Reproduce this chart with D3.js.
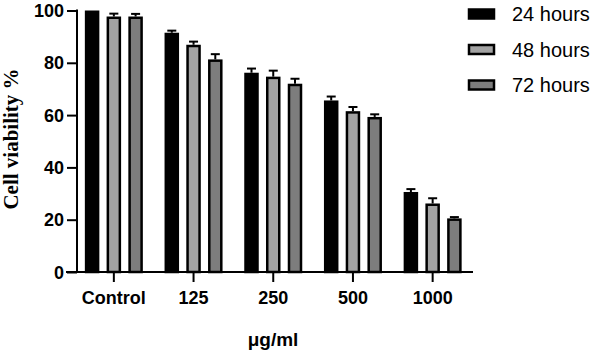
<!DOCTYPE html>
<html><head><meta charset="utf-8">
<script src="https://cdn.jsdelivr.net/npm/d3@7"></script>
<style>body{margin:0;background:#fff}svg{display:block}</style>
</head><body>
<script>
const categories = ["Control", "125", "250", "500", "1000"];
const seriesNames = ["24 hours", "48 hours", "72 hours"];
const values24 = [100, 91.5, 76.2, 65.6, 30.6];
const values48 = [97.7, 86.9, 74.7, 61.5, 26.2];
const values72 = [97.7, 81.3, 72.0, 59.3, 20.5];
const err24 = [0, 0.8, 1.6, 1.5, 1.1];
const err48 = [1.1, 1.2, 2.3, 1.6, 2.0];
const err72 = [1.0, 2.0, 1.9, 1.0, 0.5];
const yTicks = [0, 20, 40, 60, 80, 100];
const colors = ["#000000", "#a3a3a3", "#7d7d7d"];

const W = 596, H = 355;
const svg = d3.select("body").append("svg").attr("width", W).attr("height", H);

const y = d3.scaleLinear().domain([0, 100]).range([272, 10.5]);
const x = d3.scaleBand().domain(categories).range([74, 472.5]).paddingInner(0).paddingOuter(0);
const xs = d3.scaleBand().domain(seriesNames).range([-29, 29]).paddingInner(0.333).paddingOuter(0);

const series = [
  {name: seriesNames[0], vals: values24, errs: err24, color: colors[0]},
  {name: seriesNames[1], vals: values48, errs: err48, color: colors[1]},
  {name: seriesNames[2], vals: values72, errs: err72, color: colors[2]}
];

const g = svg.append("g");
series.forEach(s => {
  categories.forEach((c, i) => {
    const cx = x(c) + x.bandwidth() / 2 + xs(s.name);
    const bw = xs.bandwidth();
    if (s.errs[i] > 0) {
      const mid = cx + bw / 2;
      g.append("line").attr("x1", mid).attr("x2", mid)
        .attr("y1", y(s.vals[i])).attr("y2", y(s.vals[i] + s.errs[i]))
        .attr("stroke", "#000").attr("stroke-width", 2);
      g.append("line").attr("x1", mid - 4.5).attr("x2", mid + 4.5)
        .attr("y1", y(s.vals[i] + s.errs[i])).attr("y2", y(s.vals[i] + s.errs[i]))
        .attr("stroke", "#000").attr("stroke-width", 2);
    }
    g.append("rect")
      .attr("x", cx + 1.25).attr("y", y(s.vals[i]) + 1.25)
      .attr("width", bw - 2.5).attr("height", y(0) - y(s.vals[i]) - 1.25)
      .attr("fill", s.color).attr("stroke", "#000").attr("stroke-width", 2.5);
  });
});

// Y axis
const yAxis = svg.append("g").attr("transform", "translate(77,0)")
  .call(d3.axisLeft(y).tickValues(yTicks).tickSize(10).tickPadding(3).tickSizeOuter(0));
yAxis.select(".domain").attr("stroke-width", 2).attr("d", `M0,${y(100)-1}V${y(0)+1}`);
yAxis.selectAll(".tick line").attr("stroke-width", 2);
yAxis.selectAll(".tick text").attr("font-family", "Liberation Sans, Arial, sans-serif")
  .attr("font-weight", "bold").attr("font-size", 18).attr("fill", "#000").attr("dy", "0.34em");

// X axis
const xAxis = svg.append("g").attr("transform", `translate(0,${y(0)})`)
  .call(d3.axisBottom(x).tickSize(10).tickPadding(9).tickSizeOuter(0));
xAxis.select(".domain").attr("stroke-width", 2).attr("d", "M66,0H473");
xAxis.selectAll(".tick line").attr("stroke-width", 2);
xAxis.selectAll(".tick text").attr("font-family", "Liberation Sans, Arial, sans-serif")
  .attr("font-weight", "bold").attr("font-size", 18).attr("fill", "#000");

// Axis titles
svg.append("text").attr("transform", "translate(18,139) rotate(-90)")
  .attr("text-anchor", "middle")
  .attr("font-family", "Liberation Serif, Times New Roman, serif")
  .attr("font-weight", "bold").attr("font-size", 21).text("Cell viability %");
svg.append("text").attr("x", 273).attr("y", 346).attr("text-anchor", "middle")
  .attr("font-family", "Liberation Sans, Arial, sans-serif")
  .attr("font-weight", "bold").attr("font-size", 19).text("μg/ml");

// Legend
const leg = svg.append("g");
series.forEach((s, i) => {
  const ly = 14 + i * 35.5;
  leg.append("rect").attr("x", 469).attr("y", ly - 4.5).attr("width", 25).attr("height", 9)
    .attr("fill", s.color).attr("stroke", "#000").attr("stroke-width", 2.5);
  leg.append("text").attr("x", 512).attr("y", ly).attr("dy", "0.36em")
    .attr("font-family", "Liberation Sans, Arial, sans-serif")
    .attr("font-size", 20).attr("fill", "#000").text(s.name);
});
</script>
</body></html>
